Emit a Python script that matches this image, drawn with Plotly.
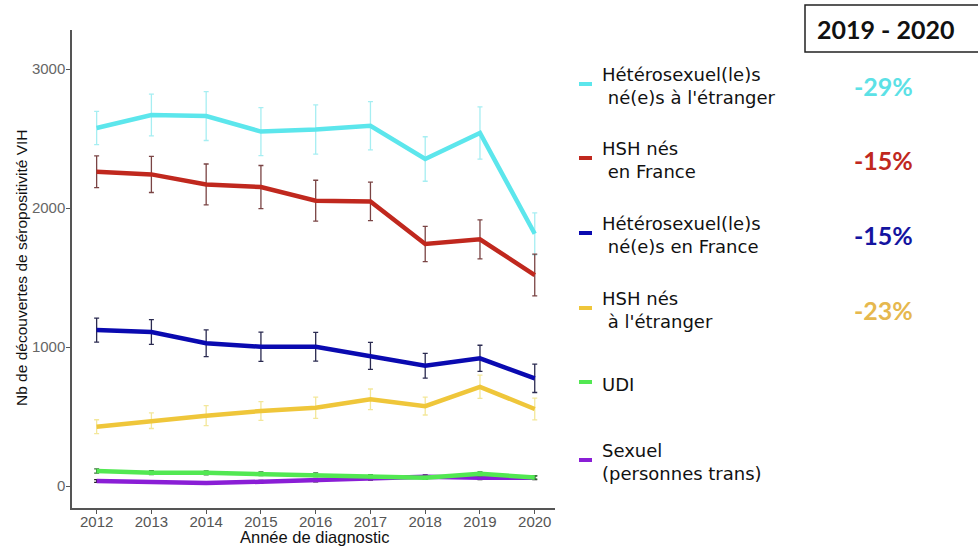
import plotly.graph_objects as go

years = [2012, 2013, 2014, 2015, 2016, 2017, 2018, 2019, 2020]

hetero_etr = [2576, 2669, 2662, 2550, 2565, 2592, 2353, 2540, 1815]
hetero_etr_err = [120, 150, 176, 173, 177, 174, 160, 188, 151]
hsh_fr = [2261, 2242, 2170, 2151, 2053, 2048, 1741, 1775, 1518]
hsh_fr_err = [114, 130, 147, 155, 147, 138, 127, 140, 150]
hetero_fr = [1122, 1108, 1027, 1002, 1002, 937, 865, 919, 775]
hetero_fr_err = [86, 89, 96, 105, 103, 97, 89, 94, 102]
hsh_etr = [427, 470, 506, 540, 563, 624, 575, 714, 554]
hsh_etr_err = [50, 56, 72, 68, 76, 74, 64, 84, 78]
udi = [108, 96, 95, 88, 81, 70, 60, 88, 62]
udi_err = [15, 14, 14, 13, 13, 12, 12, 14, 12]
trans = [36, 29, 22, 31, 41, 55, 67, 60, 60]
trans_err = [10, 10, 9, 10, 11, 12, 14, 13, 13]

legend_labels = [
    "Hétérosexuel(le)s<br>\u00a0né(e)s à l'étranger",
    "HSH nés<br>\u00a0en France",
    "Hétérosexuel(le)s<br>\u00a0né(e)s en France",
    "HSH nés<br>\u00a0à l'étranger",
    "UDI",
    "Sexuel<br>(personnes trans)",
]
pct_labels = ["-29%", "-15%", "-15%", "-23%", None, None]
box_label = "2019 - 2020"
x_title = "Année de diagnostic"
y_title = "Nb de découvertes de séropositivité VIH"

series = [
    (hetero_etr, hetero_etr_err, "#5CE6EC", "#A6EEF2", "#5CE1E6"),
    (hsh_fr, hsh_fr_err, "#C0281E", "#7A4444", "#C0281E"),
    (hetero_fr, hetero_fr_err, "#0A0AB0", "#2A2A50", "#1414A0"),
    (hsh_etr, hsh_etr_err, "#EFC63A", "#F3E79A", "#E6B84E"),
    (udi, udi_err, "#52E852", "#3A7A3A", None),
    (trans, trans_err, "#8A1ED6", "#222222", None),
]

fig = go.Figure()
draw_order = [0, 1, 2, 3, 5, 4]
for i in draw_order:
    vals, errs, col, ecol, _ = series[i]
    fig.add_trace(go.Scatter(
        x=years, y=vals, mode="lines",
        line=dict(color=col, width=4.5),
        error_y=dict(type="data", array=errs, visible=True, color=ecol,
                     thickness=1.3, width=2.5),
        showlegend=False, hoverinfo="skip",
    ))

W, H = 978, 547
# plot area in window pixels
L, R, T, B = 72, 555, 30, 508


def px(xp):
    return (xp - L) / (R - L)


def py(yp):
    return (B - yp) / (B - T)


shapes = []
annotations = []
legend_rows = [86, 160, 235, 310, 384, 462]
for k, lab in enumerate(legend_labels):
    col = series[k][2]
    yc = legend_rows[k]
    shapes.append(dict(type="line", xref="paper", yref="paper",
                       x0=px(579), x1=px(592), y0=py(yc - 2), y1=py(yc - 2),
                       line=dict(color=col, width=4)))
    annotations.append(dict(text=lab, xref="paper", yref="paper",
                            x=px(600), y=py(yc), xanchor="left", yanchor="middle",
                            align="left", showarrow=False,
                            font=dict(family="DejaVu Sans", size=18, color="#111111")))
    if pct_labels[k]:
        annotations.append(dict(text="<b>" + pct_labels[k] + "</b>", xref="paper", yref="paper",
                                x=px(883), y=py(yc), xanchor="center", yanchor="middle",
                                showarrow=False,
                                font=dict(family="Lato, Open Sans", size=25, color=series[k][4])))

shapes.append(dict(type="rect", xref="paper", yref="paper",
                   x0=px(805), x1=px(990), y0=py(5), y1=py(52),
                   line=dict(color="#222222", width=1.5), fillcolor="white"))
annotations.append(dict(text="<b>" + box_label + "</b>", xref="paper", yref="paper",
                        x=px(885), y=py(29), xanchor="center", yanchor="middle",
                        showarrow=False,
                        font=dict(family="Lato, Open Sans", size=25, color="#111111")))

# axis titles
annotations.append(dict(text=x_title, xref="paper", yref="paper",
                        x=px(315), y=py(537), xanchor="center", yanchor="middle",
                        showarrow=False,
                        font=dict(family="Liberation Sans, Arial", size=16.5, color="#111111")))
annotations.append(dict(text=y_title, xref="paper", yref="paper", textangle=-90,
                        x=px(21), y=py(268), xanchor="center", yanchor="middle",
                        showarrow=False,
                        font=dict(family="Liberation Sans, Arial", size=15.5, color="#111111")))

fig.update_layout(
    width=W, height=H,
    margin=dict(l=L, r=W - R, t=T, b=H - B),
    paper_bgcolor="white", plot_bgcolor="white",
    shapes=shapes, annotations=annotations,
    xaxis=dict(range=[2011.55, 2020.37], tickmode="array", tickvals=years,
               ticktext=[str(y) for y in years], automargin=False,
               showgrid=False, zeroline=False, showline=True, linecolor="#555555", linewidth=1.5,
               ticks="outside", ticklen=4, tickcolor="#555555", ticklabelstandoff=-5,
               tickfont=dict(family="Liberation Sans, Arial", size=15, color="#555555")),
    yaxis=dict(range=[-158, 3281], tickvals=[0, 1000, 2000, 3000], automargin=False,
               showgrid=False, zeroline=False, showline=True, linecolor="#555555", linewidth=1.5,
               ticks="outside", ticklen=4, tickcolor="#555555", ticklabelstandoff=-2,
               tickfont=dict(family="Liberation Sans, Arial", size=15, color="#666666")),
)

fig.write_html("out.html", config={"displayModeBar": False},
               post_script="document.body.style.margin='0';document.body.style.overflow='hidden';")
